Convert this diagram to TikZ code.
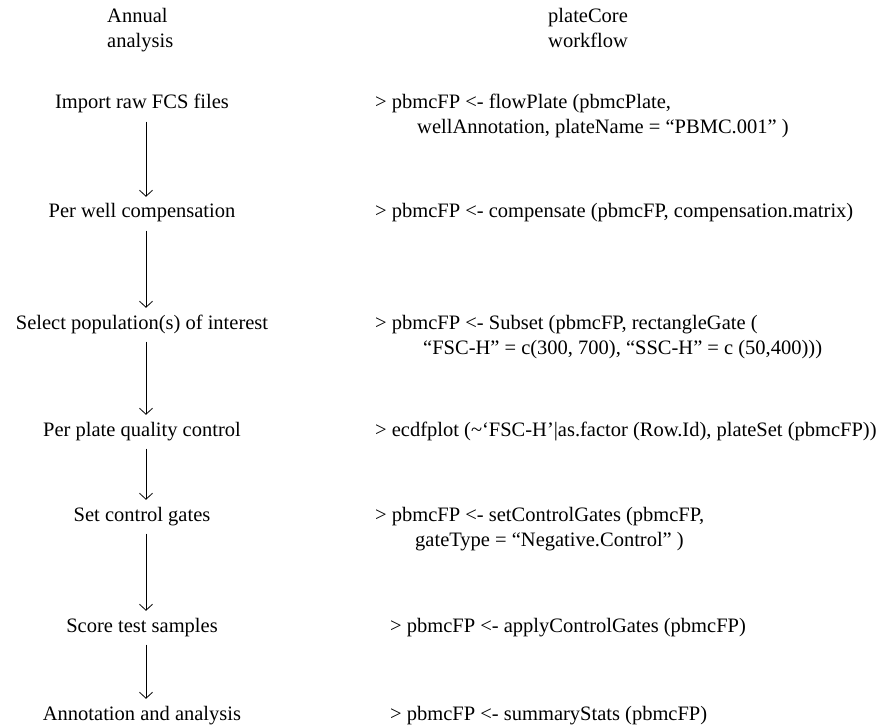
\documentclass[tikz,border=0pt]{standalone}
\usepackage{fontspec}
\setmainfont{Liberation Serif}
\usetikzlibrary{arrows.meta}

\begin{document}
\begin{tikzpicture} [
    x=1pt, y=-1pt,
    every node/.style = {inner sep=0pt, font=\fontsize{20.5}{25}\selectfont},
    stage/.style = {anchor=base, text height=0.7em, text depth=0.25em},
    code/.style = {anchor=base west, align=left},
    flow/.style = {-{Straight Barb[length=6pt,width=13pt]}, line width=0.8pt,
                   shorten <=10pt, shorten >=14pt}
]
    \useasboundingbox (0,0) rectangle (885,727);

    % headings (base = last line)
    \node [code] (annual) at (107,48) {Annual\\analysis};
    \node [code] (plate) at (548,48) {plateCore\\workflow};

    % steps
    \node [stage] (import) at (142,109) {Import raw FCS files};
    \node [stage] (well) at (142,218) {Per well compensation};
    \node [stage] (select) at (142,329) {Select population(s) of interest};
    \node [stage] (qc) at (142,436) {Per plate quality control};
    \node [stage] (gates) at (142,521) {Set control gates};
    \node [stage] (score) at (142,632) {Score test samples};
    \node [stage] (annot) at (142,720) {Annotation and analysis};

    % R calls
    \node [code] (cimport) at (375,134) {> pbmcFP <- flowPlate (pbmcPlate,\\
        \hspace*{42pt}wellAnnotation, plateName = “PBMC.001” )};
    \node [code] (cwell) at (375,218) {> pbmcFP <- compensate (pbmcFP, compensation.matrix)};
    \node [code] (cselect) at (375,354) {> pbmcFP <- Subset (pbmcFP, rectangleGate (\\
        \hspace*{48pt}“FSC-H” = c(300, 700), “SSC-H” = c (50,400)))};
    \node [code] (cqc) at (375,436) {> ecdfplot (\textasciitilde‘FSC-H’|as.factor (Row.Id), plateSet (pbmcFP))};
    \node [code] (cgates) at (375,546) {> pbmcFP <- setControlGates (pbmcFP,\\
        \hspace*{40pt}gateType = “Negative.Control” )};
    \node [code] (cscore) at (390,632) {> pbmcFP <- applyControlGates (pbmcFP)};
    \node [code] (cannot) at (390,720) {> pbmcFP <- summaryStats (pbmcFP)};

    \foreach \a/\b in {import/well, well/select, select/qc, qc/gates, gates/score, score/annot}
        \draw [flow] ([xshift=4pt]\a.south) -- ([xshift=4pt]\b.north);
\end{tikzpicture}
\end{document}
